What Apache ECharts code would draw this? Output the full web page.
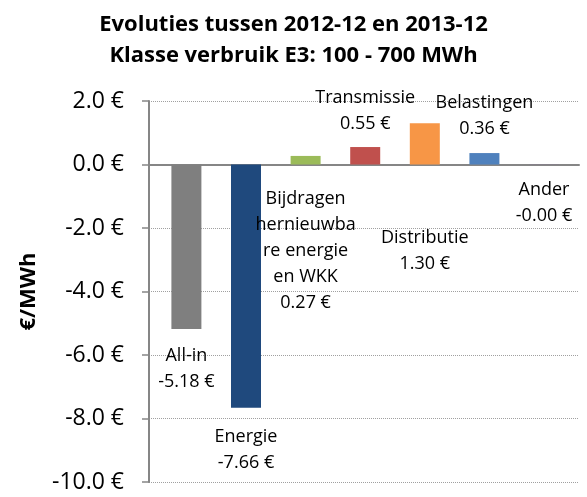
<!DOCTYPE html>
<html>
<head>
<meta charset="utf-8">
<script src="https://cdn.jsdelivr.net/npm/echarts@6/dist/echarts.min.js"></script>
<style>
    html, body { margin: 0; padding: 0; background: #fff; }
    #chart { width: 587px; height: 497px; }
</style>
</head>
<body>
<div id="chart"></div>
<script>
// categories as they are wrapped on the chart
let categories = ['All-in', 'Energie', 'Bijdragen\nhernieuwba\nre energie\nen WKK',
    'Transmissie', 'Distributie', 'Belastingen', 'Ander'];
let values = [-5.18, -7.66, 0.27, 0.55, 1.30, 0.36, -0.004];
let barColors = ['#7f7f7f', '#1f497d', '#9bbb59', '#c0504d', '#f79646', '#4f81bd', '#8064a2'];
let yTicks = [-10, -8, -6, -4, -2, 0, 2];

// where each data label sits (Excel had them dragged around)
let labelPlace = {
    'All-in': ['bottom', 14],
    'Energie': ['bottom', 16],
    'Transmissie': ['top', 10],
    'Distributie': ['bottom', 60],
    'Belastingen': ['top', 11],
    'Ander': ['bottom', 12]
};
labelPlace[categories[2]] = ['bottom', 21];

const FONT = '"Open Sans", sans-serif';

let chart = echarts.init(document.getElementById('chart'), null, { renderer: 'canvas' });

let seriesData = values.map((v, i) => {
    let place = labelPlace[categories[i]];
    return {
        value: [i, v],
        name: categories[i],
        itemStyle: { color: barColors[i] },
        label: { position: place[0], distance: place[1] }
    };
});

chart.setOption({
    animation: false,
    title: {
        text: 'Evoluties tussen 2012-12 en 2013-12\nKlasse verbruik E3: 100 - 700 MWh',
        left: 'center',
        top: 4,
        textStyle: {
            fontFamily: FONT,
            fontWeight: 'bold',
            fontSize: 22,
            lineHeight: 31,
            color: '#000'
        }
    },
    grid: { left: 149, right: 8, top: 101, bottom: 15 },
    xAxis: {
        type: 'value',
        min: -0.6275,
        max: 6.587,
        axisLine: { onZero: true, lineStyle: { color: '#868686', width: 2 } },
        axisTick: { show: false },
        axisLabel: { show: false },
        splitLine: { show: false }
    },
    yAxis: {
        type: 'value',
        min: yTicks[0],
        max: yTicks[yTicks.length - 1],
        interval: 2,
        name: '€/MWh',
        nameLocation: 'middle',
        nameRotate: 90,
        nameGap: 109,
        nameTextStyle: { fontFamily: FONT, fontWeight: 'bold', fontSize: 22, color: '#000' },
        axisLine: { show: true, onZero: false, lineStyle: { color: '#868686', width: 2 } },
        axisTick: { show: true, length: 7, lineStyle: { color: '#868686', width: 1.5 } },
        axisLabel: {
            margin: 25,
            fontFamily: FONT,
            fontSize: 23,
            color: '#000',
            formatter: v => v.toFixed(1) + ' €'
        },
        splitLine: { show: true, lineStyle: { color: '#a0a0a0', type: 'dotted', width: 1 } }
    },
    series: [{
        type: 'bar',
        barWidth: 30,
        data: seriesData,
        label: {
            show: true,
            fontFamily: FONT,
            fontSize: 18,
            lineHeight: 26,
            color: '#000',
            align: 'center',
            formatter: p => p.name + '\n' + p.value[1].toFixed(2) + ' €'
        }
    }]
});
</script>
</body>
</html>
